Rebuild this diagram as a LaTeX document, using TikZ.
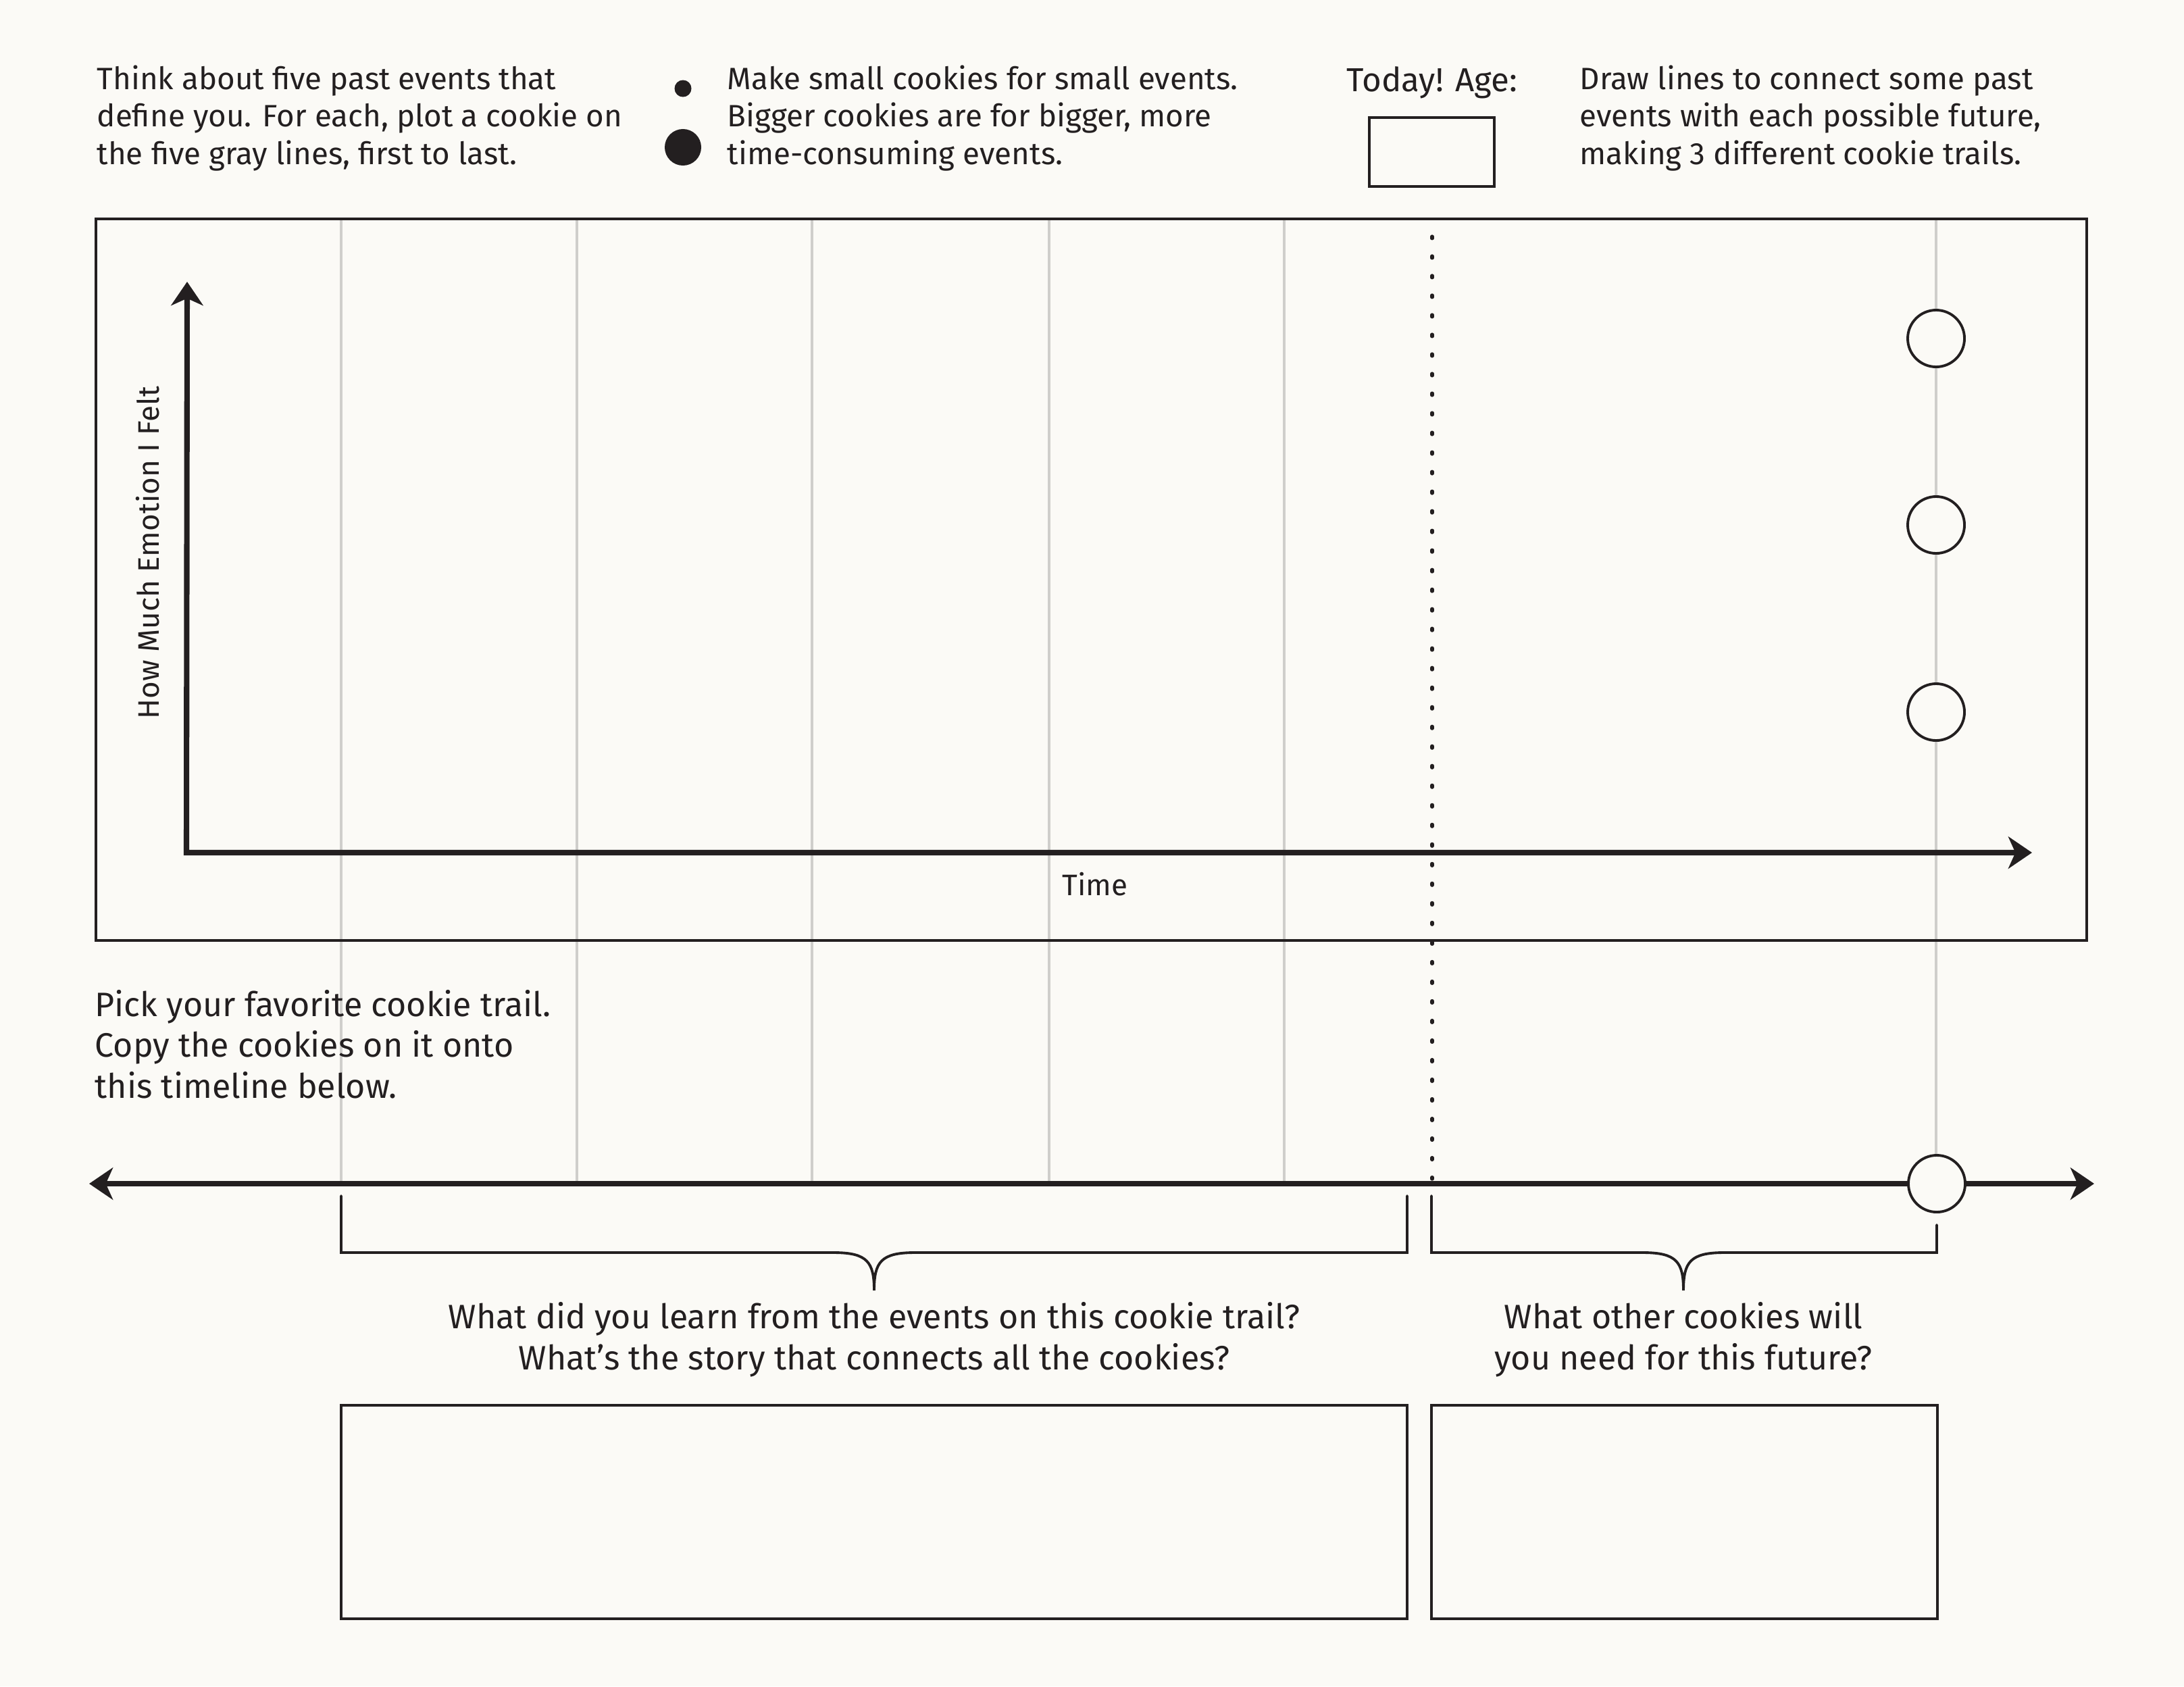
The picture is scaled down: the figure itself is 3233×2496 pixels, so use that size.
\documentclass[tikz,border=0pt]{standalone}
\usepackage{fontspec}
\setmainfont{Fira Sans}
\usetikzlibrary{arrows.meta}
\definecolor{paper}{HTML}{FBFAF6}
\definecolor{ink}{HTML}{231F20}
\definecolor{rulegray}{HTML}{CFCECB}

\tikzset{
  note/.style={text=ink, inner sep=0pt, font=\fontsize{13}{15.65}\selectfont, align=left, anchor=base west},
  prompt/.style={text=ink, inner sep=0pt, font=\fontsize{14.25}{17.1}\selectfont, align=center, anchor=base},
  axislabel/.style={text=ink, inner sep=0pt, font=\fontsize{12.5}{15}\selectfont, anchor=base},
  frame/.style={draw=ink, line width=1.1pt},
  axis/.style={draw=ink, line width=2.3pt, >={Stealth[length=10pt,width=13.5pt,inset=3pt]}},
  cookie/.style={circle, draw=ink, fill=paper, line width=1.1pt, minimum size=0.84cm, inner sep=0pt},
  gridline/.style={draw=rulegray, line width=1pt},
}

\begin{document}
\begin{tikzpicture}[x=0.01cm, y=-0.01cm]
\useasboundingbox (0,0) rectangle (3233,2496);
\fill[paper] (0,0) rectangle (3233,2496);

% instructions along the top (nodes sit on their last baseline)
\node[note] (intro) at (143,243) {Think about five past events that\\define you. For each, plot a cookie on\\the five gray lines, first to last.};
\node[circle, fill=ink, inner sep=0pt, minimum size=0.25cm] (smalldot) at (1011,131) {};
\node[circle, fill=ink, inner sep=0pt, minimum size=0.54cm] (bigdot) at (1011,218) {};
\node[note] (sizes) at (1076,243) {Make small cookies for small events.\\Bigger cookies are for bigger, more\\time-consuming events.};
\node[text=ink, inner sep=0pt, font=\fontsize{14}{17}\selectfont, anchor=base] (today) at (2120,135) {Today! Age:};
\draw[frame] (2027,174) rectangle (2212,276);
\node[note] (trails) at (2338,243) {Draw lines to connect some past\\events with each possible future,\\making 3 different cookie trails.};

% gray event lines and the dotted today line
\foreach \gx in {505,854,1202,1553,1901,2866}
  \draw[gridline] (\gx,324) -- (\gx,1752);
\draw[ink, line width=1.5pt, line cap=round, dash pattern=on 0.8pt off 7.45pt] (2120,350) -- (2120,1745);

% plot frame and axes
\draw[frame] (142,324) rectangle (3089,1392);
\coordinate (origin) at (276,1262);
\coordinate (ytip) at (277,417);
\coordinate (xtip) at (3008,1262);
\draw[axis, <->] (ytip) -- (origin) -- (xtip);
\node[axislabel, rotate=90] (ylabel) at (235,818) {How Much Emotion I Felt};
\node[axislabel] (xlabel) at (1621,1325) {Time};

% possible futures
\node[cookie] (future1) at (2866,501) {};
\node[cookie] (future2) at (2866,777) {};
\node[cookie] (future3) at (2866,1054) {};

% timeline
\node[note, font=\fontsize{14.25}{17.1}\selectfont] (pick) at (140,1625) {Pick your favorite cookie trail.\\Copy the cookies on it onto\\this timeline below.};
\coordinate (tlstart) at (132,1752);
\coordinate (tlend) at (3100,1752);
\draw[axis, <->] (tlstart) -- (tlend);
\node[cookie] (chosen) at (2867,1752) {};

% braces
\draw[frame, line cap=round] (505,1770) -- (505,1854) -- (1234,1854)
  .. controls (1284,1854) and (1294,1868) .. (1294,1910)
  .. controls (1294,1868) and (1304,1854) .. (1354,1854) -- (2083,1854) -- (2083,1770);
\draw[frame, line cap=round] (2119,1770) -- (2119,1854) -- (2432,1854)
  .. controls (2482,1854) and (2492,1868) .. (2492,1910)
  .. controls (2492,1868) and (2502,1854) .. (2552,1854) -- (2867,1854) -- (2867,1813);

% reflection questions
\node[prompt] (learn) at (1294,2027) {What did you learn from the events on this cookie trail?\\What’s the story that connects all the cookies?};
\node[prompt] (need) at (2492,2027) {What other cookies will\\you need for this future?};
\draw[frame] (505,2080) rectangle (2083,2396);
\draw[frame] (2119,2080) rectangle (2868,2396);
\end{tikzpicture}
\end{document}
